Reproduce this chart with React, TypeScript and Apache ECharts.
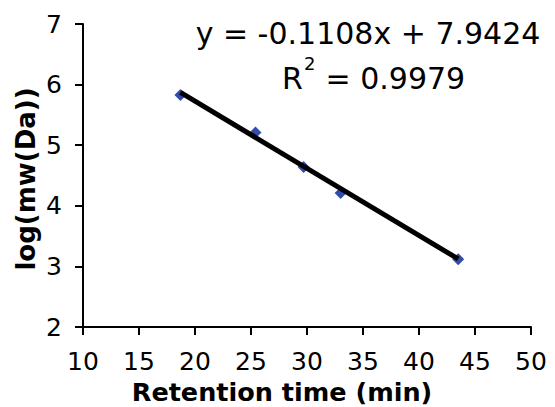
import React, { useEffect, useRef } from "react";
import * as echarts from "echarts";

const retentionTimes = [18.7, 25.4, 29.7, 33.0, 43.5];
const logMw = [5.83, 5.21, 4.64, 4.21, 3.12];
const slope = -0.1108;
const intercept = 7.9424;
const equationText = "y = -0.1108x + 7.9424";
const r2Text = " = 0.9979";
const xTitle = "Retention time (min)";
const yTitle = "log(mw(Da))";

export default function App() {
  const ref = useRef<HTMLDivElement>(null);
  useEffect(() => {
    if (!ref.current) return;
    const chart = echarts.init(ref.current, null, { renderer: "svg" });
    const xMin = Math.min(...retentionTimes);
    const xMax = Math.max(...retentionTimes);
    const trend = [
      [xMin, slope * xMin + intercept],
      [xMax, slope * xMax + intercept],
    ];
    const font = "DejaVu Sans, Verdana, sans-serif";
    chart.setOption({
      animation: false,
      backgroundColor: "#fff",
      grid: { left: 83, right: 24, top: 24, bottom: 80 },
      xAxis: {
        type: "value",
        min: 10,
        max: 50,
        interval: 5,
        axisLine: { lineStyle: { color: "#000", width: 2 } },
        axisTick: { show: true, length: 8, lineStyle: { color: "#000", width: 2 } },
        axisLabel: { color: "#000", fontSize: 25, fontFamily: font, margin: 22 },
        splitLine: { show: false },
      },
      yAxis: {
        type: "value",
        min: 2,
        max: 7,
        interval: 1,
        axisLine: { show: true, lineStyle: { color: "#000", width: 2 } },
        axisTick: { show: true, length: 8, lineStyle: { color: "#000", width: 2 } },
        axisLabel: { color: "#000", fontSize: 25, fontFamily: font, margin: 21 },
        splitLine: { show: false },
      },
      series: [
        {
          type: "scatter",
          data: retentionTimes.map((x, i) => [x, logMw[i]]),
          symbol: "diamond",
          symbolSize: 12,
          itemStyle: { color: "#001E96" },
          z: 2,
        },
        {
          type: "line",
          data: trend,
          showSymbol: false,
          symbol: "none",
          lineStyle: { color: "#000", width: 5 },
          z: 3,
        },
      ],
      graphic: [
        {
          type: "text",
          x: 368,
          y: 33,
          style: {
            text: equationText,
            font: `30px ${font}`,
            fill: "#000",
            textAlign: "center",
            textVerticalAlign: "middle",
          },
        },
        {
          type: "text",
          x: 282,
          y: 78,
          style: {
            text: "R",
            font: `30px ${font}`,
            fill: "#000",
            textAlign: "left",
            textVerticalAlign: "middle",
          },
        },
        {
          type: "text",
          x: 304,
          y: 63,
          style: {
            text: "2",
            font: `18px ${font}`,
            fill: "#000",
            textAlign: "left",
            textVerticalAlign: "middle",
          },
        },
        {
          type: "text",
          x: 316,
          y: 78,
          style: {
            text: r2Text,
            font: `30px ${font}`,
            fill: "#000",
            textAlign: "left",
            textVerticalAlign: "middle",
          },
        },
        {
          type: "text",
          x: 282,
          y: 392,
          style: {
            text: xTitle,
            font: `bold 25.5px ${font}`,
            fill: "#000",
            textAlign: "center",
            textVerticalAlign: "middle",
          },
        },
        {
          type: "text",
          x: 26,
          y: 179,
          rotation: Math.PI / 2,
          style: {
            text: yTitle,
            font: `bold 26px ${font}`,
            fill: "#000",
            textAlign: "center",
            textVerticalAlign: "middle",
          },
        },
      ],
    });
    return () => chart.dispose();
  }, []);
  return <div ref={ref} style={{ width: 555, height: 407, position: "absolute", left: 0, top: 0 }} />;
}
